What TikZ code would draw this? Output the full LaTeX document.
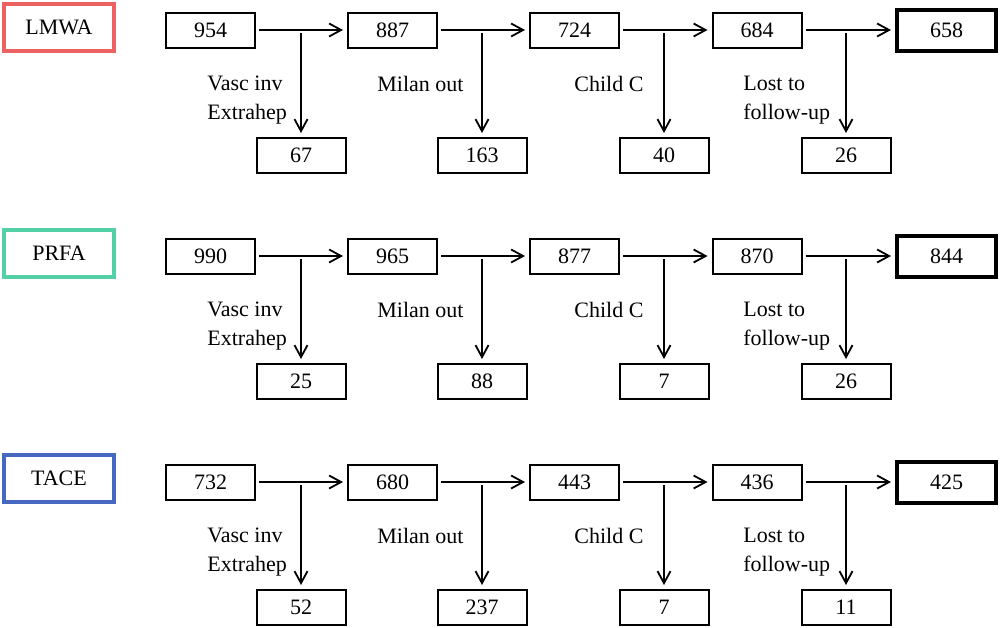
\documentclass[tikz,border=0pt]{standalone}
\usepackage{fontspec}
\setmainfont{Liberation Serif}
\usetikzlibrary{arrows.meta,positioning}

\definecolor{lmwacol}{RGB}{236,98,98}
\definecolor{prfacol}{RGB}{84,208,166}
\definecolor{tacecol}{RGB}{70,104,192}

\tikzset{
	numbox/.style={draw,line width=1pt,minimum width=44.5pt,minimum height=17.5pt,inner sep=0pt,font=\fontsize{11}{13}\selectfont},
	endbox/.style={numbox,line width=2pt,minimum width=49.5pt,minimum height=20.5pt},
	armbox/.style={draw=#1,line width=2pt,minimum width=55pt,minimum height=23.5pt,inner sep=0pt,font=\fontsize{11}{13}\selectfont},
	flow/.style={-{Straight Barb[length=6pt,width=6.5pt]},line width=0.9pt,shorten <=1.5pt,shorten >=2pt},
	why/.style={align=left,anchor=north west,inner sep=0pt,font=\fontsize{11}{14.5}\selectfont}
}

\begin{document}
\begin{tikzpicture}[x=0.5pt,y=-0.5pt]
		\useasboundingbox (0,0) rectangle (1000,627);
		% arms
		\node[armbox=lmwacol] (a1) at (59,27.5) {LMWA};
		\node[armbox=prfacol] (a2) at (59,253.5) {PRFA};
		\node[armbox=tacecol] (a3) at (59,478.5) {TACE};
		% LMWA row
		\node[numbox] (m11) at (210.5,30) {954};
		\node[numbox] (m12) at (392.5,30) {887};
		\node[numbox] (m13) at (574.5,30) {724};
		\node[numbox] (m14) at (757,30) {684};
		\node[endbox] (m15) at (946.5,30) {658};
		\node[numbox] (d11) at (301,155.5) {67};
		\node[numbox] (d12) at (482,155.5) {163};
		\node[numbox] (d13) at (664,155.5) {40};
		\node[numbox] (d14) at (846,155.5) {26};
		% PRFA row
		\node[numbox] (m21) at (210.5,256) {990};
		\node[numbox] (m22) at (392.5,256) {965};
		\node[numbox] (m23) at (574.5,256) {877};
		\node[numbox] (m24) at (757,256) {870};
		\node[endbox] (m25) at (946.5,256) {844};
		\node[numbox] (d21) at (301,381.5) {25};
		\node[numbox] (d22) at (482,381.5) {88};
		\node[numbox] (d23) at (664,381.5) {7};
		\node[numbox] (d24) at (846,381.5) {26};
		% TACE row
		\node[numbox] (m31) at (210.5,482) {732};
		\node[numbox] (m32) at (392.5,482) {680};
		\node[numbox] (m33) at (574.5,482) {443};
		\node[numbox] (m34) at (757,482) {436};
		\node[endbox] (m35) at (946.5,482) {425};
		\node[numbox] (d31) at (301,607.5) {52};
		\node[numbox] (d32) at (482,607.5) {237};
		\node[numbox] (d33) at (664,607.5) {7};
		\node[numbox] (d34) at (846,607.5) {11};
		% arrows and exclusions
		\foreach \r/\y in {1/30,2/256,3/482}{
			\foreach \j/\x/\dx/\why in {1/301/-94/{Vasc inv\\Extrahep},2/482/-105/{Milan out},3/664/-90/{Child C},4/846/-103/{Lost to\\follow-up}}{
				\pgfmathtruncatemacro{\k}{\j+1}
				\coordinate (b\r\j) at (\x,\y);
				\draw[flow] (m\r\j) -- (m\r\k);
				\draw[flow] (b\r\j) -- (d\r\j.north);
				\node[why] (w\r\j) at ([shift={(\dx,46)}]b\r\j) {\why};
			}
		}
	\end{tikzpicture}
\end{document}
